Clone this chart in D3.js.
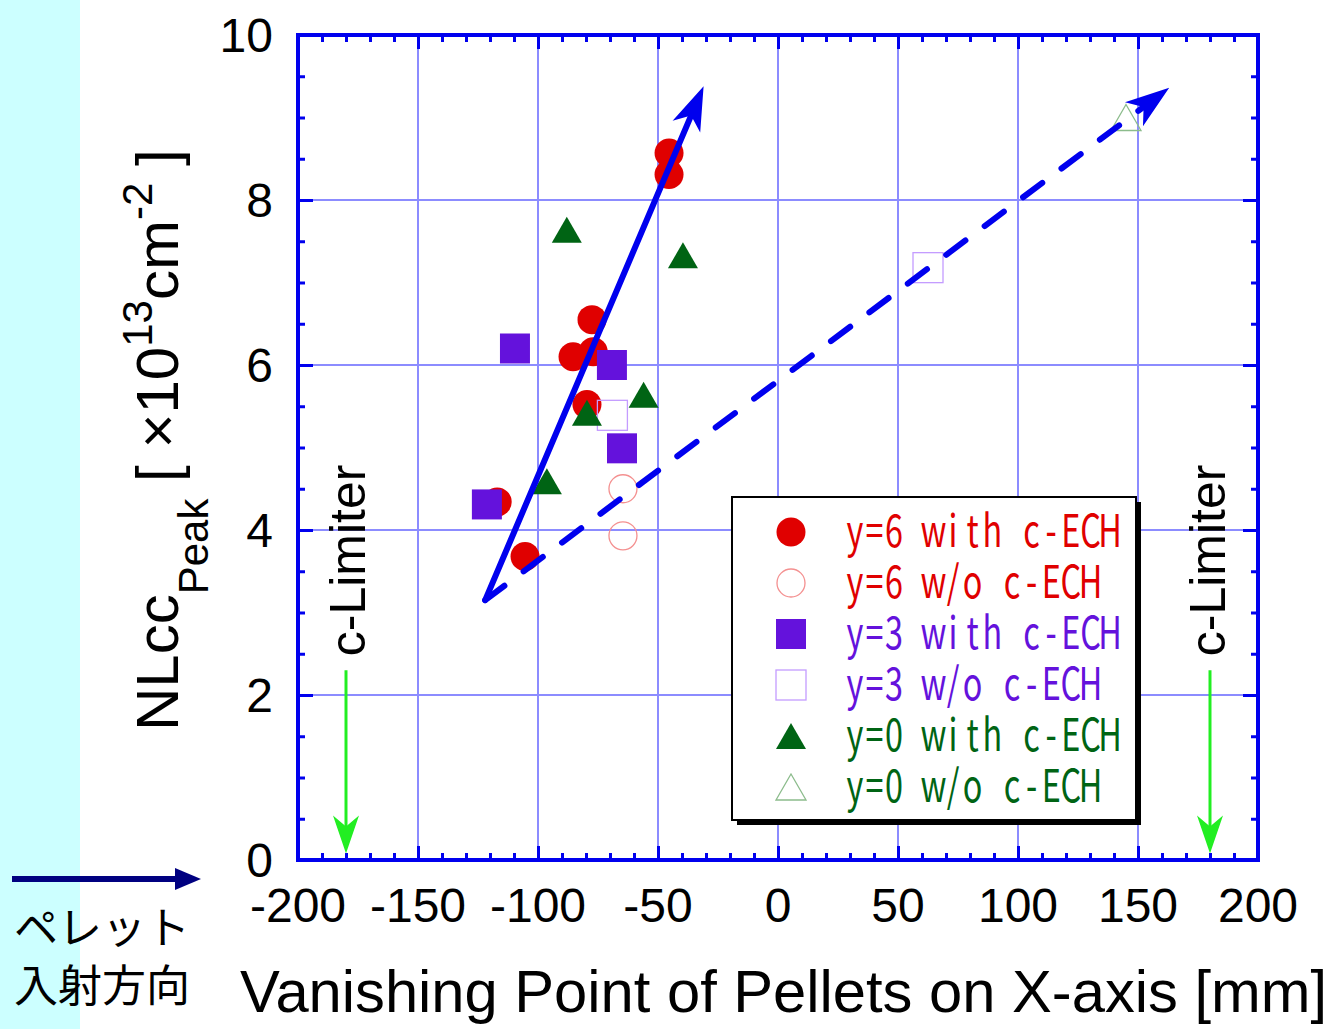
<!DOCTYPE html>
<html>
<head>
<meta charset="utf-8">
<script src="https://cdn.jsdelivr.net/npm/d3@7"></script>
<style>
  html, body { margin: 0; padding: 0; background: #ffffff; }
  svg { display: block; }
</style>
</head>
<body>
<div id="chart"></div>
<script>
// data
const xTicks = [-200, -150, -100, -50, 0, 50, 100, 150, 200];
const yTicks = [0, 2, 4, 6, 8, 10];

const redWithX = [-45.4, -45.4, -77.5, -85.4, -77, -79.6, -117, -105.4];
const redWithY = [8.57, 8.31, 6.55, 6.1, 6.16, 5.52, 4.34, 3.68];
const redWoX = [-64.6, -64.6];
const redWoY = [4.5, 3.93];

const purpleWithX = [-109.6, -69.2, -65, -121.3];
const purpleWithY = [6.2, 6.0, 4.99, 4.31];
const purpleWoX = [-69, 62.5];
const purpleWoY = [5.39, 7.18];

const greenWithX = [-88, -39.6, -79.6, -56, -96.3];
const greenWithY = [7.64, 7.33, 5.42, 5.64, 4.59];
const greenWoX = [145];
const greenWoY = [9.0];

// trend arrows (start point, end point)
const solidArrowX = [-122, -31];
const solidArrowY = [3.15, 9.38];
const dashArrowX = [-122, 163];
const dashArrowY = [3.15, 9.36];

// c-Limiter positions
const limiterX = [-180, 180];
const limiterY = [2.3, 0.08];

const legendLabels = [
  "y=6 with c-ECH",
  "y=6 w/o c-ECH",
  "y=3 with c-ECH",
  "y=3 w/o c-ECH",
  "y=0 with c-ECH",
  "y=0 w/o c-ECH",
];

const RED = "#e00000";
const PURPLE = "#6412dc";
const GREEN = "#006414";
const BLUE = "#0000ee";

const width = 1329;
const height = 1029;
const margin = { top: 35, left: 298, right: 71, bottom: 169 };

const svg = d3
  .select("#chart")
  .append("svg")
  .attr("width", width)
  .attr("height", height);

// cyan strip on the left
svg
  .append("rect")
  .attr("x", 0)
  .attr("y", 0)
  .attr("width", 80)
  .attr("height", height)
  .attr("fill", "#ccffff");

const xScale = d3
  .scaleLinear()
  .domain([-200, 200])
  .range([margin.left, width - margin.right]);

const yScale = d3
  .scaleLinear()
  .domain([0, 10])
  .range([height - margin.bottom, margin.top]);

const x0 = xScale(-200), x1 = xScale(200);
const y0 = yScale(0), y1 = yScale(10);

// grid lines
const grid = svg.append("g");
grid
  .selectAll("line.gx")
  .data(xTicks.slice(1, -1))
  .enter()
  .append("line")
  .attr("x1", (d) => xScale(d))
  .attr("x2", (d) => xScale(d))
  .attr("y1", y1)
  .attr("y2", y0)
  .attr("stroke", "#8c8cff")
  .attr("stroke-width", 2);
grid
  .selectAll("line.gy")
  .data(yTicks.slice(1, -1))
  .enter()
  .append("line")
  .attr("x1", x0)
  .attr("x2", x1)
  .attr("y1", (d) => yScale(d))
  .attr("y2", (d) => yScale(d))
  .attr("stroke", "#8c8cff")
  .attr("stroke-width", 2);

// axes with inward ticks on all four sides
const xMinor = d3.range(-200, 201, 10);
const yMinor = d3.range(0, 10.01, 0.5);

function addAxis(axis, transform) {
  svg
    .append("g")
    .attr("transform", transform)
    .call(axis)
    .call((g) => g.select(".domain").remove())
    .call((g) => g.selectAll("text").remove())
    .call((g) => g.selectAll("line").attr("stroke", BLUE).attr("stroke-width", 3));
}

const xIsMajor = (d) => d % 50 === 0;
const yIsMajor = (d) => d % 2 === 0;

// bottom / top
addAxis(d3.axisTop(xScale).tickValues(xMinor.filter((d) => !xIsMajor(d))).tickSize(7), `translate(0,${y0})`);
addAxis(d3.axisTop(xScale).tickValues(xTicks).tickSize(14), `translate(0,${y0})`);
addAxis(d3.axisBottom(xScale).tickValues(xMinor.filter((d) => !xIsMajor(d))).tickSize(7), `translate(0,${y1})`);
addAxis(d3.axisBottom(xScale).tickValues(xTicks).tickSize(14), `translate(0,${y1})`);
// left / right
addAxis(d3.axisRight(yScale).tickValues(yMinor.filter((d) => !yIsMajor(d))).tickSize(7), `translate(${x0},0)`);
addAxis(d3.axisRight(yScale).tickValues(yTicks).tickSize(15), `translate(${x0},0)`);
addAxis(d3.axisLeft(yScale).tickValues(yMinor.filter((d) => !yIsMajor(d))).tickSize(7), `translate(${x1},0)`);
addAxis(d3.axisLeft(yScale).tickValues(yTicks).tickSize(15), `translate(${x1},0)`);

// frame
svg
  .append("rect")
  .attr("x", x0)
  .attr("y", y1)
  .attr("width", x1 - x0)
  .attr("height", y0 - y1)
  .attr("fill", "none")
  .attr("stroke", BLUE)
  .attr("stroke-width", 4);

// tick labels
svg
  .selectAll("text.xt")
  .data(xTicks)
  .enter()
  .append("text")
  .attr("x", (d) => xScale(d))
  .attr("y", 922)
  .attr("text-anchor", "middle")
  .attr("font-family", "Liberation Sans, Arial, sans-serif")
  .attr("font-size", "48px")
  .text((d) => d);

svg
  .selectAll("text.yt")
  .data(yTicks)
  .enter()
  .append("text")
  .attr("x", 273)
  .attr("y", (d) => yScale(d) + 17)
  .attr("text-anchor", "end")
  .attr("font-family", "Liberation Sans, Arial, sans-serif")
  .attr("font-size", "48px")
  .text((d) => d);

// axis titles
svg
  .append("text")
  .attr("x", 240)
  .attr("y", 1012)
  .attr("font-family", "Liberation Sans, Arial, sans-serif")
  .attr("font-size", "59.7px")
  .text("Vanishing Point of Pellets on X-axis [mm]");

const yTitle = svg
  .append("text")
  .attr("transform", "translate(178,731) rotate(-90)")
  .attr("font-family", "Liberation Sans, Arial, sans-serif")
  .attr("font-size", "60px");
yTitle.append("tspan").text("NLcc");
yTitle.append("tspan").attr("font-size", "42px").attr("dy", 30).text("Peak");
yTitle.append("tspan").attr("dy", -30).text(" [ \u00d710");
yTitle.append("tspan").attr("font-size", "42px").attr("dy", -26).text("13");
yTitle.append("tspan").attr("dy", 26).text("cm");
yTitle.append("tspan").attr("font-size", "42px").attr("dy", -26).text("-2");
yTitle.append("tspan").attr("dy", 26).text(" ]");

// c-Limiter arrows and labels
const LIMGREEN = "#22ee22";
limiterX.forEach((lx, i) => {
  const px = xScale(lx);
  const top = yScale(limiterY[0]);
  const tip = yScale(limiterY[1]);
  svg
    .append("line")
    .attr("x1", px)
    .attr("x2", px)
    .attr("y1", top)
    .attr("y2", tip - 25)
    .attr("stroke", LIMGREEN)
    .attr("stroke-width", 3);
  svg
    .append("path")
    .attr("d", `M${px},${tip} L${px - 13},${tip - 38} L${px},${tip - 27} L${px + 13},${tip - 38} Z`)
    .attr("fill", LIMGREEN);
  svg
    .append("text")
    .attr("transform", `translate(${px + (i === 0 ? 19 : 15)},${top - 14}) rotate(-90)`)
    .attr("font-family", "Liberation Sans, Arial, sans-serif")
    .attr("font-size", "50px")
    .text("c-Limiter");
});

// trend arrows
function drawArrow(xs, ys, dashed) {
  const sx = xScale(xs[0]), sy = yScale(ys[0]);
  const ex = xScale(xs[1]), ey = yScale(ys[1]);
  const len = Math.hypot(ex - sx, ey - sy);
  const ux = (ex - sx) / len, uy = (ey - sy) / len;
  const nx = -uy, ny = ux;
  svg
    .append("line")
    .attr("x1", sx)
    .attr("y1", sy)
    .attr("x2", ex - ux * 26)
    .attr("y2", ey - uy * 26)
    .attr("stroke", BLUE)
    .attr("stroke-width", 6)
    .attr("stroke-linecap", "round")
    .attr("stroke-dasharray", dashed ? "24 24" : null);
  const bx = ex - ux * 44, by = ey - uy * 44;
  const mx = ex - ux * 32, my = ey - uy * 32;
  svg
    .append("path")
    .attr(
      "d",
      `M${ex},${ey} L${bx + nx * 15},${by + ny * 15} L${mx},${my} L${bx - nx * 15},${by - ny * 15} Z`
    )
    .attr("fill", BLUE);
}

// markers
const circle = (g, x, y, filled, color) =>
  g
    .append("circle")
    .attr("cx", x)
    .attr("cy", y)
    .attr("r", filled ? 14.5 : 14)
    .attr("fill", filled ? color : "none")
    .attr("stroke", filled ? "none" : color)
    .attr("stroke-width", 1.3);
const square = (g, x, y, filled, color) =>
  g
    .append("rect")
    .attr("x", x - 15)
    .attr("y", y - 15)
    .attr("width", 30)
    .attr("height", 30)
    .attr("fill", filled ? color : "none")
    .attr("stroke", filled ? "none" : color)
    .attr("stroke-width", 1.3);
const triangle = (g, x, y, filled, color) =>
  g
    .append("path")
    .attr("d", `M${x},${y - 13} L${x + 15},${y + 13} L${x - 15},${y + 13} Z`)
    .attr("fill", filled ? color : "none")
    .attr("stroke", filled ? "none" : color)
    .attr("stroke-width", 1.3);

const series = [
  { xs: redWithX, ys: redWithY, shape: circle, filled: true, color: RED },
  { xs: redWoX, ys: redWoY, shape: circle, filled: false, color: "#f49090" },
  { xs: purpleWithX, ys: purpleWithY, shape: square, filled: true, color: PURPLE },
  { xs: purpleWoX, ys: purpleWoY, shape: square, filled: false, color: "#c49cff" },
  { xs: greenWithX, ys: greenWithY, shape: triangle, filled: true, color: GREEN },
  { xs: greenWoX, ys: greenWoY, shape: triangle, filled: false, color: "#8cbc8c" },
];
const textColors = [RED, RED, PURPLE, PURPLE, GREEN, GREEN];

const pts = svg.append("g");
series.forEach((s) => {
  s.xs.forEach((xv, i) => s.shape(pts, xScale(xv), yScale(s.ys[i]), s.filled, s.color));
});

drawArrow(solidArrowX, solidArrowY, false);
drawArrow(dashArrowX, dashArrowY, true);

// legend
const lg = svg.append("g");
lg.append("rect")
  .attr("x", 737)
  .attr("y", 502)
  .attr("width", 404)
  .attr("height", 323)
  .attr("fill", "#000");
lg.append("rect")
  .attr("x", 732)
  .attr("y", 497)
  .attr("width", 404)
  .attr("height", 323)
  .attr("fill", "#fff")
  .attr("stroke", "#000")
  .attr("stroke-width", 2);

// fixed-width cells, gothic-like narrow glyphs
const cell = 19.64;
const sx = 0.72;
legendLabels.forEach((label, i) => {
  const cy = 532 + i * 51;
  const s = series[i];
  s.shape(lg, 791, cy, s.filled, s.color);
  const xs = Array.from(label, (ch, k) => ((k + 0.5) * cell) / sx);
  lg.append("text")
    .attr("transform", `translate(845,${cy + 15}) scale(${sx},1)`)
    .attr("x", xs.join(" "))
    .attr("y", 0)
    .attr("text-anchor", "middle")
    .attr("font-family", "Noto Sans CJK JP, sans-serif")
    .attr("font-size", "45px")
    .attr("fill", textColors[i])
    .text(label);
});

// pellet injection direction
svg
  .append("line")
  .attr("x1", 12)
  .attr("x2", 178)
  .attr("y1", 879)
  .attr("y2", 879)
  .attr("stroke", "#000080")
  .attr("stroke-width", 6);
svg
  .append("path")
  .attr("d", "M201,879 L175,868 L175,890 Z")
  .attr("fill", "#000080");

svg
  .append("text")
  .attr("x", 14)
  .attr("y", 944)
  .attr("font-family", "Noto Sans CJK JP, sans-serif")
  .attr("font-size", "44px")
  .text("ペレット");
svg
  .append("text")
  .attr("x", 14)
  .attr("y", 1002)
  .attr("font-family", "Noto Sans CJK JP, sans-serif")
  .attr("font-size", "44px")
  .text("入射方向");
</script>
</body>
</html>
